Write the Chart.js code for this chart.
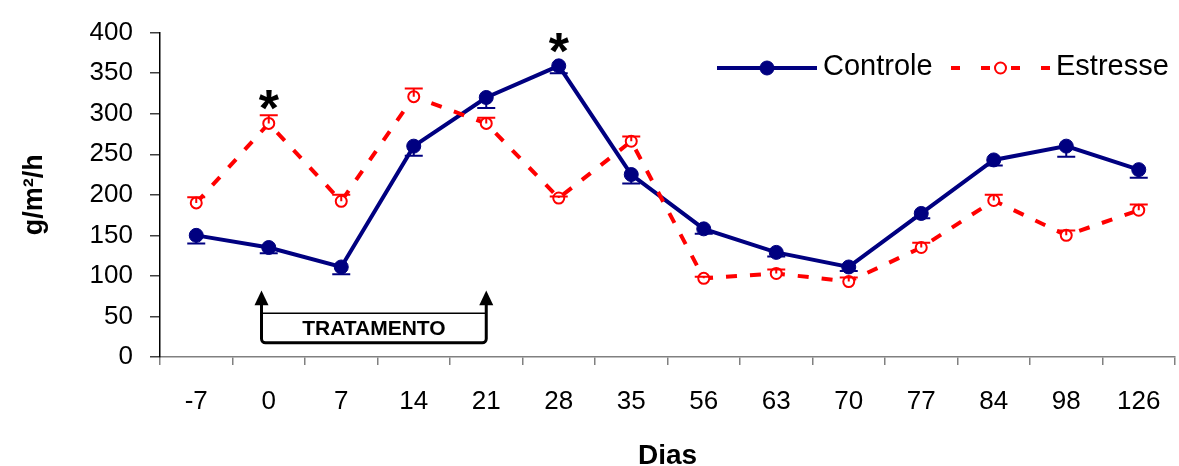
<!DOCTYPE html>
<html>
<head>
<meta charset="utf-8">
<script src="https://cdn.jsdelivr.net/npm/chart.js@4/dist/chart.umd.min.js"></script>
<style>
  html, body { margin: 0; padding: 0; background: #ffffff; }
  #wrap { width: 1179px; height: 466px; }
</style>
</head>
<body>
<div id="wrap"><canvas id="grafico" width="1179" height="466"></canvas></div>
<script>
// Dias de coleta (eixo x, categorias)
const dias = ['-7', '0', '7', '14', '21', '28', '35', '56', '63', '70', '77', '84', '98', '126'];

// Controle: médias e erro padrão (barra para baixo)
const controle     = [150, 135, 111, 260, 320, 359, 225, 158, 129, 111, 177, 243, 260, 231];
const controleErro = [ 10,   7,   9,  12,  13,   9,  11,   6,   5,   5,   6,   7,  13,  10];

// Estresse: médias e erro padrão (barra para cima)
const estresse     = [190, 288, 192, 321, 288, 196, 266,  97, 103,  93, 135, 193, 150, 181];
const estresseErro = [  7,  10,   8,  10,   7,   2,   6,   2,   5,   5,   6,   7,   6,   7];

// Marcas do eixo y
const yTicks = [0, 50, 100, 150, 200, 250, 300, 350, 400];

// Diferenças significativas (série, dia)
const significativo = [
  { serie: 1, dia: '0' },
  { serie: 0, dia: '28' }
];

// Período de tratamento (dias)
const tratamento = { inicio: '0', fim: '21', rotulo: 'TRATAMENTO' };

const FONTE = "'Liberation Sans', Arial, Helvetica, sans-serif";
const AZUL = '#000080';
const VERMELHO = '#ff0000';

// Barras de erro: Controle para baixo, Estresse para cima
const barrasErro = {
  id: 'barrasErro',
  afterDatasetsDraw(chart) {
    const ctx = chart.ctx;
    const y = chart.scales.y;
    const configs = [
      { erro: controleErro, sinal: -1, cor: AZUL },
      { erro: estresseErro, sinal: 1, cor: VERMELHO }
    ];
    configs.forEach((cfg, di) => {
      const meta = chart.getDatasetMeta(di);
      const valores = chart.data.datasets[di].data;
      ctx.save();
      ctx.strokeStyle = cfg.cor;
      ctx.lineWidth = 2;
      meta.data.forEach((pt, i) => {
        const yFim = y.getPixelForValue(valores[i] + cfg.sinal * cfg.erro[i]);
        ctx.beginPath();
        ctx.moveTo(pt.x, pt.y);
        ctx.lineTo(pt.x, yFim);
        ctx.moveTo(pt.x - 9, yFim);
        ctx.lineTo(pt.x + 9, yFim);
        ctx.stroke();
      });
      ctx.restore();
    });
  }
};

// Asteriscos de significância acima dos pontos
const asteriscos = {
  id: 'asteriscos',
  afterDatasetsDraw(chart) {
    const ctx = chart.ctx;
    ctx.save();
    ctx.fillStyle = '#000';
    ctx.font = 'bold 52px ' + FONTE;
    ctx.textAlign = 'center';
    ctx.textBaseline = 'alphabetic';
    const m = ctx.measureText('*');
    significativo.forEach(s => {
      const idx = dias.indexOf(s.dia);
      const pt = chart.getDatasetMeta(s.serie).data[idx];
      const centro = pt.y - 23;
      const base = centro - (m.actualBoundingBoxDescent - m.actualBoundingBoxAscent) / 2;
      ctx.fillText('*', pt.x, base);
    });
    ctx.restore();
  }
};

// Chave do período de tratamento com setas
const chaveTratamento = {
  id: 'chaveTratamento',
  afterDraw(chart) {
    const ctx = chart.ctx;
    const xs = chart.scales.x, ys = chart.scales.y;
    const xa = xs.getPixelForValue(dias.indexOf(tratamento.inicio) - 0.1);
    const xb = xs.getPixelForValue(dias.indexOf(tratamento.fim));
    const yPonta = ys.getPixelForValue(82);
    const yBaseSeta = ys.getPixelForValue(65);
    const yTopo = ys.getPixelForValue(54);
    const yFundo = ys.getPixelForValue(17.5);
    const r = 4;
    ctx.save();
    ctx.strokeStyle = '#000';
    ctx.fillStyle = '#000';
    // linha superior fina
    ctx.lineWidth = 1.5;
    ctx.beginPath();
    ctx.moveTo(xa, yTopo);
    ctx.lineTo(xb, yTopo);
    ctx.stroke();
    // hastes e base arredondada
    ctx.lineWidth = 3;
    ctx.beginPath();
    ctx.moveTo(xa, yBaseSeta);
    ctx.lineTo(xa, yFundo - r);
    ctx.arcTo(xa, yFundo, xa + r, yFundo, r);
    ctx.lineTo(xb - r, yFundo);
    ctx.arcTo(xb, yFundo, xb, yFundo - r, r);
    ctx.lineTo(xb, yBaseSeta);
    ctx.stroke();
    // pontas das setas
    [xa, xb].forEach(x => {
      ctx.beginPath();
      ctx.moveTo(x, yPonta);
      ctx.lineTo(x - 7, yBaseSeta + 1);
      ctx.lineTo(x + 7, yBaseSeta + 1);
      ctx.closePath();
      ctx.fill();
    });
    // rótulo
    ctx.font = 'bold 21px ' + FONTE;
    ctx.textAlign = 'center';
    ctx.textBaseline = 'middle';
    ctx.fillText(tratamento.rotulo, (xa + xb) / 2, (yTopo + yFundo) / 2 + 1);
    ctx.restore();
  }
};

// Legenda desenhada no canto superior direito
const legenda = {
  id: 'legenda',
  afterDraw(chart) {
    const ctx = chart.ctx;
    const yL = 68;
    const itens = [
      { x0: 717, x1: 817, texto: 'Controle', ds: 0 },
      { x0: 951, x1: 1050, texto: 'Estresse', ds: 1 }
    ];
    ctx.save();
    itens.forEach(it => {
      const d = chart.data.datasets[it.ds];
      ctx.strokeStyle = d.borderColor;
      ctx.lineWidth = d.borderWidth;
      ctx.lineCap = 'butt';
      ctx.setLineDash(it.ds === 1 ? [9, 21] : []);
      ctx.beginPath();
      ctx.moveTo(it.x0, yL);
      ctx.lineTo(it.x1, yL);
      ctx.stroke();
      ctx.setLineDash([]);
      const xc = (it.x0 + it.x1) / 2;
      ctx.beginPath();
      ctx.arc(xc, yL, d.pointRadius, 0, Math.PI * 2);
      ctx.fillStyle = d.pointBackgroundColor;
      ctx.fill();
      ctx.lineWidth = d.pointBorderWidth;
      ctx.strokeStyle = d.pointBorderColor;
      ctx.stroke();
      ctx.fillStyle = '#000';
      ctx.font = '29px ' + FONTE;
      ctx.textAlign = 'left';
      ctx.textBaseline = 'middle';
      ctx.fillText(it.texto, it.x1 + 6, yL - 1);
    });
    ctx.restore();
  }
};

new Chart(document.getElementById('grafico'), {
  type: 'line',
  data: {
    labels: dias,
    datasets: [
      {
        label: 'Controle',
        data: controle,
        borderColor: AZUL,
        backgroundColor: AZUL,
        borderWidth: 4,
        pointRadius: 7,
        pointBackgroundColor: AZUL,
        pointBorderColor: AZUL,
        pointBorderWidth: 1,
        tension: 0,
        fill: false,
        order: 1
      },
      {
        label: 'Estresse',
        data: estresse,
        borderColor: VERMELHO,
        backgroundColor: '#ffffff',
        borderWidth: 4,
        borderDash: [11, 13],
        pointRadius: 5.5,
        pointBackgroundColor: '#ffffff',
        pointBorderColor: VERMELHO,
        pointBorderWidth: 2,
        tension: 0,
        fill: false,
        order: 0
      }
    ]
  },
  options: {
    responsive: false,
    animation: false,
    devicePixelRatio: 1,
    layout: { autoPadding: false, padding: { top: 30, right: 4, left: 0, bottom: 0 } },
    plugins: {
      legend: { display: false },
      tooltip: { enabled: false }
    },
    scales: {
      x: {
        type: 'category',
        offset: true,
        grid: { offset: true, drawOnChartArea: false, drawTicks: true, tickLength: 8, color: '#808080', lineWidth: 1.5 },
        border: { color: '#808080', width: 1.5 },
        ticks: { color: '#000', font: { family: FONTE, size: 26 }, padding: 21, maxRotation: 0, autoSkip: false },
        title: { display: true, text: 'Dias', color: '#000', font: { family: FONTE, size: 28, weight: 'bold', lineHeight: 0.7 }, padding: 0 },
        afterFit(s) { s.height = 109; s.paddingLeft = 0; s.paddingRight = 0; }
      },
      y: {
        min: 0,
        max: 400,
        afterBuildTicks(s) { s.ticks = yTicks.map(v => ({ value: v })); },
        grid: { drawOnChartArea: false, drawTicks: true, tickLength: 10, color: '#404040', lineWidth: 1.5 },
        border: { color: '#000', width: 1.5 },
        ticks: { color: '#000', font: { family: FONTE, size: 26 }, padding: 17 },
        title: { display: true, text: 'g/m²/h', color: '#000', font: { family: FONTE, size: 27, weight: 'bold', lineHeight: 1 }, padding: { top: 21, bottom: 0 } },
        afterFit(s) { s.width = 160; }
      }
    }
  },
  plugins: [barrasErro, asteriscos, chaveTratamento, legenda]
});
</script>
</body>
</html>
